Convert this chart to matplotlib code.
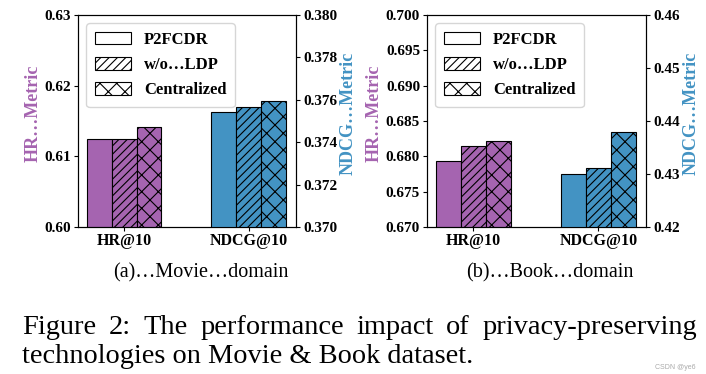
import numpy as np
import matplotlib
matplotlib.use("Agg")
import matplotlib.pyplot as plt
from matplotlib.patches import Patch

plt.rcParams['font.family'] = ['Liberation Serif', 'DejaVu Serif']
plt.rcParams['hatch.linewidth'] = 0.8

# data
metrics = ["HR@10", "NDCG@10"]
methods = ["P2FCDR", "w/o\u2026LDP", "Centralized"]
hatches = ["", "////", "xx"]

movie_hr = [0.6124, 0.6125, 0.6141]
movie_ndcg = [0.37542, 0.37564, 0.37594]
book_hr = [0.67935, 0.68148, 0.68224]
book_ndcg = [0.4300, 0.4312, 0.4379]

movie_hr_ticks = [0.60, 0.61, 0.62, 0.63]
movie_ndcg_ticks = [0.370, 0.372, 0.374, 0.376, 0.378, 0.380]
book_hr_ticks = [0.670, 0.675, 0.680, 0.685, 0.690, 0.695, 0.700]
book_ndcg_ticks = [0.42, 0.43, 0.44, 0.45, 0.46]

purple = "#A564B0"
blue = "#4393C3"
W, H = 706, 374

fig = plt.figure(figsize=(W / 100, H / 100), dpi=100)


def panel(left_px, right_px, hr, ndcg, hr_ticks, ndcg_ticks, hr_fmt, ndcg_fmt, caption, cap_x):
    ax = fig.add_axes([left_px / W, 1 - 227 / H, (right_px - left_px) / W, 212 / H])
    ax2 = ax.twinx()
    w = 0.2
    for i in range(3):
        ax.bar(0 + (i - 1) * w, hr[i], w, color=purple, edgecolor="black", hatch=hatches[i], linewidth=0.8)
        ax2.bar(1 + (i - 1) * w, ndcg[i], w, color=blue, edgecolor="black", hatch=hatches[i], linewidth=0.8)
    ax.set_xlim(-0.37, 1.38)
    ax.set_ylim(hr_ticks[0], hr_ticks[-1])
    ax2.set_ylim(ndcg_ticks[0], ndcg_ticks[-1])
    ax.set_yticks(hr_ticks)
    ax.set_yticklabels([hr_fmt.format(v) for v in hr_ticks])
    ax2.set_yticks(ndcg_ticks)
    ax2.set_yticklabels([ndcg_fmt.format(v) for v in ndcg_ticks])
    ax.set_xticks([0, 1])
    ax.set_xticklabels(metrics)
    for a in (ax, ax2):
        a.tick_params(labelsize=11, length=3, pad=2)
        for lab in a.get_xticklabels() + a.get_yticklabels():
            lab.set_fontweight("bold")
    ax.tick_params(axis="x", labelsize=11.5, pad=1)
    ax.set_ylabel("HR\u2026Metric", color=purple, fontsize=13, fontweight="bold", labelpad=2)
    ax2.set_ylabel("NDCG\u2026Metric", color=blue, fontsize=13, fontweight="bold", labelpad=2)
    ax.yaxis.label.set_y(0.538)
    ax2.yaxis.label.set_y(0.538)
    handles = [Patch(facecolor="white", edgecolor="black", hatch=h, linewidth=0.8) for h in hatches]
    ax.legend(handles, methods, loc="upper left", prop={"weight": "bold", "size": 12},
              handlelength=2.2, handleheight=0.8, handletextpad=0.75, labelspacing=0.55,
              borderpad=0.5)
    fig.text(cap_x / W, 1 - 277 / H, caption, ha="center", va="baseline", fontsize=14.5)
    return ax


panel(78, 296, movie_hr, movie_ndcg, movie_hr_ticks, movie_ndcg_ticks, "{:.2f}", "{:.3f}",
      "(a)\u2026Movie\u2026domain", 201)
panel(427, 646, book_hr, book_ndcg, book_hr_ticks, book_ndcg_ticks, "{:.3f}", "{:.2f}",
      "(b)\u2026Book\u2026domain", 550)

# justified first caption line
cap_size = 20.4
words = ["Figure", "2:", "The", "performance", "impact", "of", "privacy-preserving"]
x0, x1 = 22, 697
fig.canvas.draw()
r = fig.canvas.get_renderer()
txts = [fig.text(0, 1 - 334 / H, wd, fontsize=cap_size, va="baseline") for wd in words]
widths = [t.get_window_extent(r).width for t in txts]
gap = (x1 - x0 - sum(widths)) / (len(words) - 1)
x = x0
for t, wdt in zip(txts, widths):
    t.set_x(x / W)
    x += wdt + gap
fig.text(x0 / W, 1 - 363 / H, "technologies on Movie & Book dataset.", fontsize=cap_size, va="baseline")
fig.text(655 / W, 1 - 369 / H, "CSDN @ye6", fontsize=5, color="#aaaaaa", family="Liberation Sans", va="baseline")

fig.savefig("out.png", dpi=100)
